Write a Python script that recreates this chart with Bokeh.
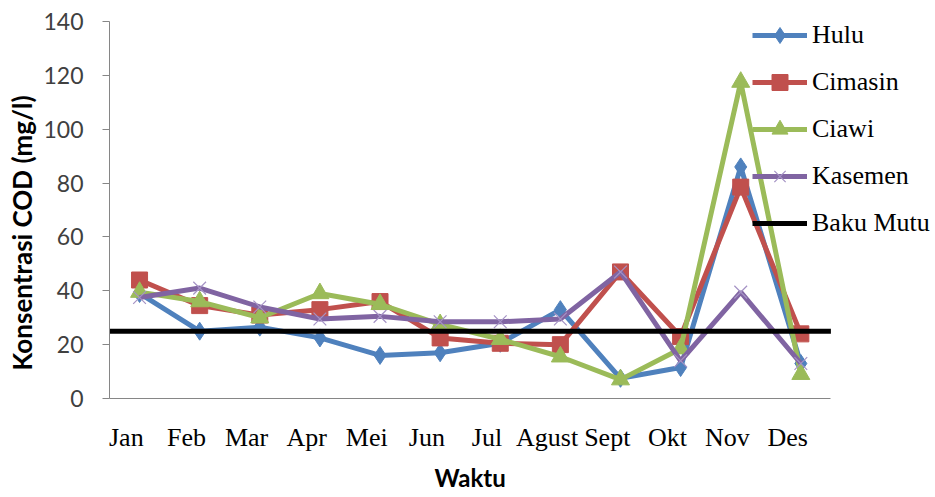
from bokeh.plotting import figure
from bokeh.models import Legend, LegendItem, Range1d, FixedTicker, Title
from bokeh.embed import file_html
from bokeh.resources import INLINE

months = ["Jan", "Feb", "Mar", "Apr", "Mei", "Jun", "Jul", "Agust", "Sept", "Okt", "Nov", "Des"]
hulu = [39, 25, 26.5, 22.5, 16, 17, 20.5, 33, 7.5, 11.5, 86, 13]
cimasin = [44, 34.5, 31, 33, 36, 22.5, 20.5, 20, 47, 23, 78.5, 24]
ciawi = [39.5, 36, 30, 39, 35, 27.5, 22, 15.5, 7, 18.5, 117.5, 9]
kasemen = [37.5, 41, 34, 29.5, 30.5, 28.5, 28.5, 29.5, 47, 14, 39.5, 13]
baku_mutu = [25, 25, 25, 25, 25, 25, 25, 25, 25, 25, 25, 25]
y_ticks = [0, 20, 40, 60, 80, 100, 120, 140]

# month positions on a numeric axis (1..12), labelled with the month names
x = list(range(1, len(months) + 1))
x_lo, x_hi = x[0] - 0.5, x[-1] + 0.5
# in the original, the month labels sit slightly left of their points
label_pos = [xi - 0.22 for xi in x]

p = figure(
    x_range=Range1d(x_lo, 14.24),
    y_range=Range1d(0, 140),
    width=935, height=497,
    output_backend="svg", toolbar_location=None,
    min_border_left=108, min_border_right=0,
    min_border_top=21, min_border_bottom=97,
)
p.xgrid.visible = False
p.ygrid.visible = False
p.outline_line_color = None

# y axis
p.yaxis.ticker = y_ticks
p.yaxis.minor_tick_line_color = None
p.yaxis.major_tick_in = 0
p.yaxis.major_tick_out = 7
p.yaxis.axis_line_color = "#868686"
p.yaxis.major_tick_line_color = "#868686"
p.yaxis.major_label_text_font = "Lato"
p.yaxis.major_label_text_font_size = "23px"
p.yaxis.major_label_text_color = "#404040"
p.yaxis.major_label_standoff = 19
p.add_layout(Title(text="Konsentrasi COD (mg/l)", align="left", offset=28, standoff=6,
                   text_font="Lato", text_font_style="bold",
                   text_font_size="26px", text_color="black"), "left")

# x axis
p.xaxis.ticker = FixedTicker(ticks=label_pos)
p.xaxis.major_label_overrides = {lp: m for lp, m in zip(label_pos, months)}
p.xaxis.bounds = (x_lo, x_hi)
p.xaxis.minor_tick_line_color = None
p.xaxis.major_tick_in = 0
p.xaxis.major_tick_out = 0
p.xaxis.axis_line_color = "#868686"
p.xaxis.major_label_text_font = "Liberation Serif"
p.xaxis.major_label_text_font_size = "26px"
p.xaxis.major_label_text_color = "black"
p.xaxis.major_label_standoff = 24
p.add_layout(Title(text="Waktu", align="left", offset=325, standoff=12,
                   text_font="Lato", text_font_style="bold",
                   text_font_size="24px", text_color="black"), "below")

# series
l1 = p.line(x, hulu, line_color="#4F81BD", line_width=5)
m1 = p.scatter(x, hulu, marker="diamond", size=18, fill_color="#4F81BD", line_color="#4F81BD")
l2 = p.line(x, cimasin, line_color="#C0504D", line_width=5)
m2 = p.scatter(x, cimasin, marker="square", size=16, fill_color="#C0504D", line_color="#C0504D")
l3 = p.line(x, ciawi, line_color="#9BBB59", line_width=5)
m3 = p.scatter(x, ciawi, marker="triangle", size=18, fill_color="#9BBB59", line_color="#9BBB59")
l4 = p.line(x, kasemen, line_color="#8064A2", line_width=5)
m4 = p.scatter(x, kasemen, marker="x", size=18, line_color="#A593C5", line_width=1.2)

# Baku Mutu: constant limit drawn across the full category span
l5 = p.line([x_lo, x_hi], [baku_mutu[0], baku_mutu[-1]], line_color="black", line_width=5)

legend = Legend(
    items=[
        LegendItem(label="Hulu", renderers=[l1, m1]),
        LegendItem(label="Cimasin", renderers=[l2, m2]),
        LegendItem(label="Ciawi", renderers=[l3, m3]),
        LegendItem(label="Kasemen", renderers=[l4, m4]),
        LegendItem(label="Baku Mutu", renderers=[l5]),
    ],
    location=(643, 155),
    padding=0, margin=0,
    glyph_width=55, glyph_height=40, spacing=7, label_standoff=5,
    label_text_font="Liberation Serif", label_text_font_size="26px",
    label_text_color="black",
    background_fill_alpha=0, border_line_alpha=0,
)
p.add_layout(legend)

open("out.html", "w").write(file_html(p, INLINE))
